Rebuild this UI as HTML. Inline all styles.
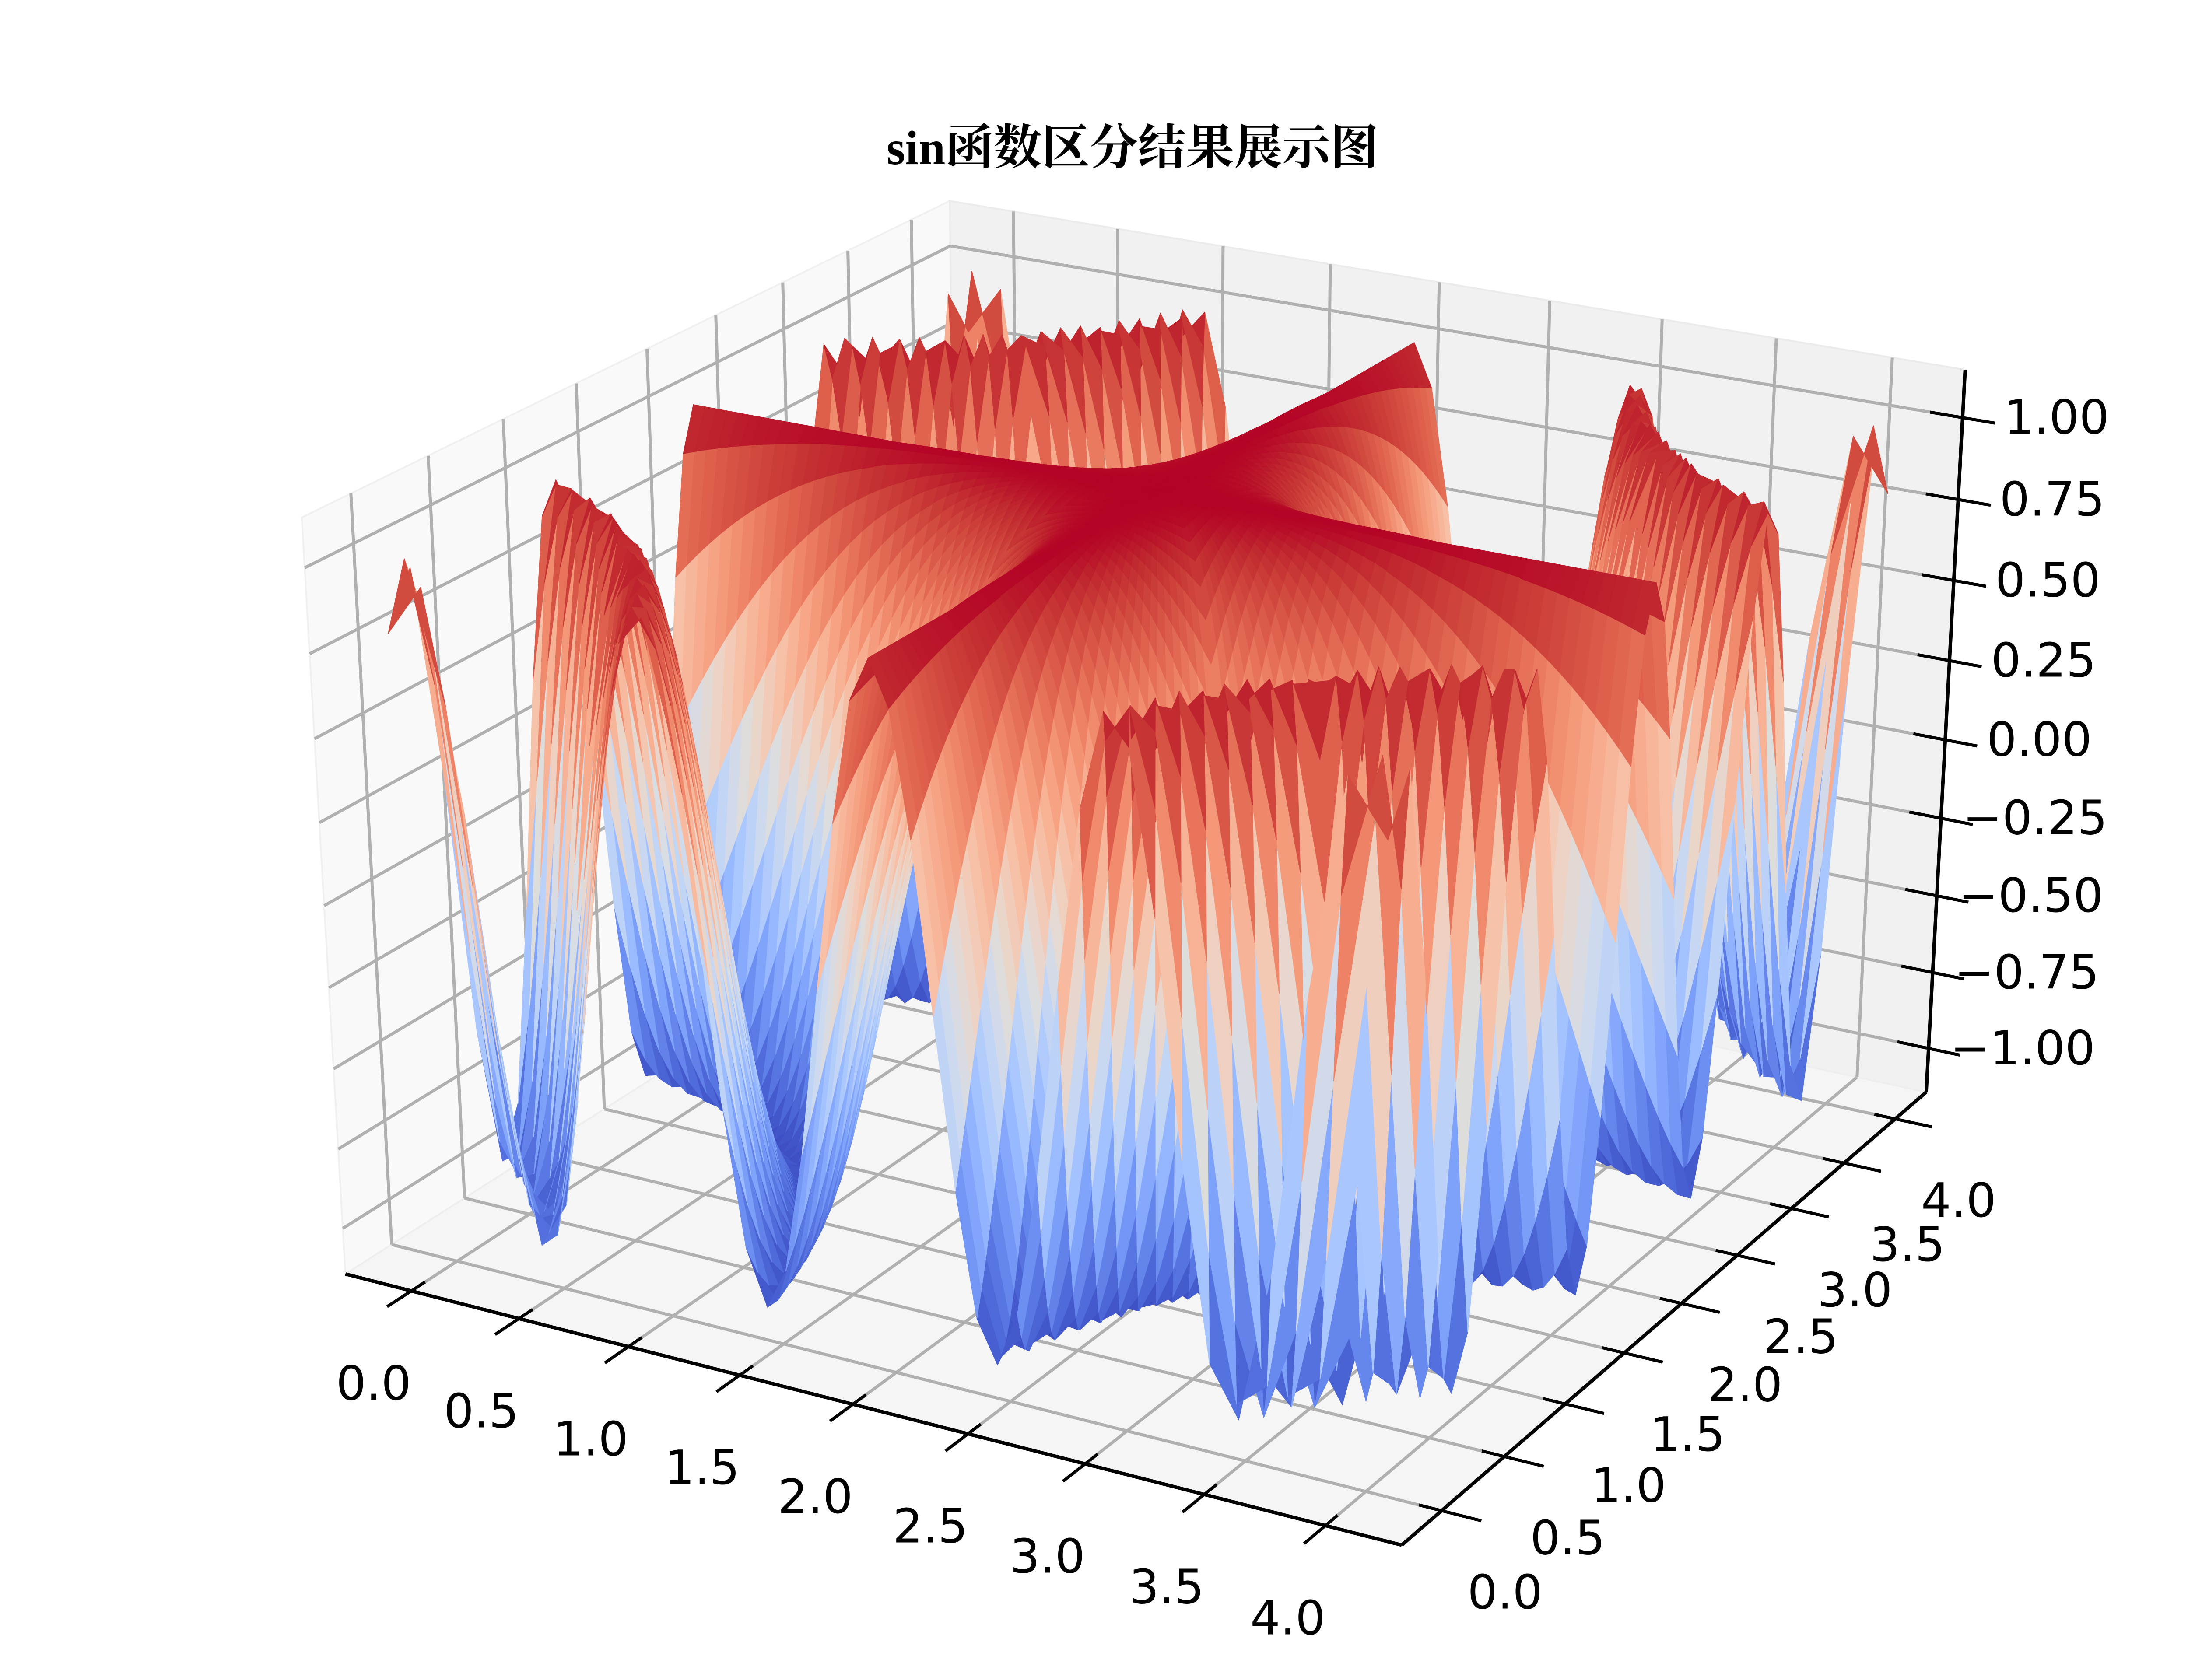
<!DOCTYPE html>
<html><head><meta charset="utf-8">
<style>
html,body{margin:0;padding:0;background:#fff;}
svg{display:block;}
.tick{font-family:"DejaVu Sans","Liberation Sans",sans-serif;font-size:108px;fill:#000;}
</style></head>
<body>
<svg id="chart" xmlns="http://www.w3.org/2000/svg" width="5120" height="3840" viewBox="0 0 5120 3840">
<rect width="5120" height="3840" fill="#ffffff"/>
<g id="panes"></g>
<g id="grid"></g>
<g id="surface"></g>
<g id="axes"></g>
<text x="2588" y="375" text-anchor="middle" font-family="'Liberation Serif','Noto Serif CJK SC',serif" font-weight="bold" font-size="110">sin函数区分结果展示图</text>
</svg>
<script>
// ---- data ----
const xTicks = [0.0,0.5,1.0,1.5,2.0,2.5,3.0,3.5,4.0];
const yTicks = [0.0,0.5,1.0,1.5,2.0,2.5,3.0,3.5,4.0];
const zTicks = [-1.0,-0.75,-0.5,-0.25,0.0,0.25,0.5,0.75,1.0];
const xTickLabels = ["0.0","0.5","1.0","1.5","2.0","2.5","3.0","3.5","4.0"];
const yTickLabels = ["0.0","0.5","1.0","1.5","2.0","2.5","3.0","3.5","4.0"];
const zTickLabels = ["\u22121.00","\u22120.75","\u22120.50","\u22120.25","0.00","0.25","0.50","0.75","1.00"];
const thetaGrid = Array.from({length:161},(_, j)=>j*2*Math.PI/160);
const sGrid = Array.from({length:41},(_, i)=>i/40);
const halfSize = 2.1;
const freqK = 3;
const meshX = sGrid.map(s=>thetaGrid.map(t=>{const c=Math.cos(t),n=Math.sin(t);const rho=halfSize/Math.max(Math.abs(c),Math.abs(n));return 2+s*rho*c;}));
const meshY = sGrid.map(s=>thetaGrid.map(t=>{const c=Math.cos(t),n=Math.sin(t);const rho=halfSize/Math.max(Math.abs(c),Math.abs(n));return 2+s*rho*n;}));
const zGrid = meshX.map((row,i)=>row.map((x,j)=>Math.cos(freqK*(x-2)*(meshY[i][j]-2))));

const xlim=[-0.31,4.31], ylim=[-0.31,4.31], zlim=[-1.145,1.145];
const NS="http://www.w3.org/2000/svg";

function norm(x,y,z){
  return [(x-(xlim[0]+xlim[1])/2)/(xlim[1]-xlim[0]),
          (y-(ylim[0]+ylim[1])/2)/(ylim[1]-ylim[0]),
          (z-(zlim[0]+zlim[1])/2)/(zlim[1]-zlim[0])*0.75];
}
function rawProj(p,el,az,D){
  const ce=Math.cos(el),se=Math.sin(el),ca=Math.cos(az),sa=Math.sin(az);
  const e=[ce*ca,ce*sa,se], r=[-sa,ca,0], u=[-se*ca,-se*sa,ce];
  const t=D-(p[0]*e[0]+p[1]*e[1]+p[2]*e[2]);
  return [(p[0]*r[0]+p[1]*r[1])/t*D,(p[0]*u[0]+p[1]*u[1]+p[2]*u[2])/t*D,t];
}
const corners=[[xlim[0],ylim[0],zlim[0],793,2925],[xlim[1],ylim[0],zlim[0],3189,3513],
 [xlim[1],ylim[1],zlim[0],4407,2524],[xlim[0],ylim[0],zlim[1],694,1157],
 [xlim[1],ylim[1],zlim[1],4497,812],[xlim[0],ylim[1],zlim[1],2165,496]];
function fit1(a,b){const n=a.length;let sa=0,sb=0,saa=0,sab=0;for(let i=0;i<n;i++){sa+=a[i];sb+=b[i];saa+=a[i]*a[i];sab+=a[i]*b[i];}
 const m=(n*sab-sa*sb)/(n*saa-sa*sa),c=(sb-m*sa)/n;let res=0;for(let i=0;i<n;i++){const d=m*a[i]+c-b[i];res+=d*d;}return [m,c,res];}
let best=null;
for(let el=24;el<=36;el+=0.5)for(let az=-66;az<=-54;az+=0.5)for(const D of [2,2.5,3,4,5,6,8,10,15,25,50]){
  const P=corners.map(c=>rawProj(norm(c[0],c[1],c[2]),el*Math.PI/180,az*Math.PI/180,D));
  const fx=fit1(P.map(p=>p[0]),corners.map(c=>c[3]));
  const fy=fit1(P.map(p=>p[1]),corners.map(c=>c[4]));
  const res=fx[2]+fy[2];
  if(!best||res<best.res)best={res,el:el*Math.PI/180,az:az*Math.PI/180,D,fx,fy};
}
function P3(x,y,z){const q=rawProj(norm(x,y,z),best.el,best.az,best.D);
  return [best.fx[0]*q[0]+best.fx[1],best.fy[0]*q[1]+best.fy[1],q[2]];}

function mk(tag,attrs,parent){const e=document.createElementNS(NS,tag);for(const k in attrs)e.setAttribute(k,attrs[k]);parent.appendChild(e);return e;}
function pts(a){return a.map(p=>p[0].toFixed(1)+","+p[1].toFixed(1)).join(" ");}

const panes=document.getElementById('panes');
const [X0,X1]=xlim,[Y0,Y1]=ylim,[Z0,Z1]=zlim;
let pe;
pe=mk('polygon',{points:pts([P3(X0,Y0,Z0),P3(X0,Y1,Z0),P3(X0,Y1,Z1),P3(X0,Y0,Z1)]),fill:'#f9f9f9',stroke:'#f0f0f0','stroke-width':4},panes);


pe=mk('polygon',{points:pts([P3(X0,Y1,Z0),P3(X1,Y1,Z0),P3(X1,Y1,Z1),P3(X0,Y1,Z1)]),fill:'#f1f1f1',stroke:'#ebebeb','stroke-width':4},panes);


pe=mk('polygon',{points:pts([P3(X0,Y0,Z0),P3(X1,Y0,Z0),P3(X1,Y1,Z0),P3(X0,Y1,Z0)]),fill:'#f5f5f5',stroke:'#eeeeee','stroke-width':4},panes);



const grid=document.getElementById('grid');
function gl(a,b,name){const l=mk('line',{x1:a[0],y1:a[1],x2:b[0],y2:b[1],stroke:'#b0b0b0','stroke-width':7},grid);
 
 }
xTicks.forEach(x=>{gl(P3(x,Y0,Z0),P3(x,Y1,Z0),'x-gridline');gl(P3(x,Y1,Z0),P3(x,Y1,Z1),'x-gridline');});
yTicks.forEach(y=>{gl(P3(X1,y,Z0),P3(X0,y,Z0),'y-gridline');gl(P3(X0,y,Z0),P3(X0,y,Z1),'y-gridline');});
zTicks.forEach(z=>{gl(P3(X0,Y0,z),P3(X0,Y1,z),'z-gridline');gl(P3(X0,Y1,z),P3(X1,Y1,z),'z-gridline');});

const CW=[[59,76,192],[68,90,204],[77,104,215],[87,117,225],[98,130,234],[108,142,241],[119,154,247],[130,165,251],[141,176,254],[152,185,255],[163,194,255],[174,201,253],[184,208,249],[194,213,244],[204,217,238],[213,219,230],[221,221,221],[229,216,209],[236,211,197],[241,204,185],[245,196,173],[247,187,160],[247,177,148],[247,166,135],[244,154,123],[241,141,111],[236,127,99],[229,112,88],[222,96,77],[213,80,66],[203,62,56],[192,40,47],[180,4,38]];
function cmap(t){t=Math.max(0,Math.min(1,t))*32;const i=Math.min(31,Math.floor(t)),f=t-i;const a=CW[i],b=CW[i+1];
 return 'rgb('+a.map((v,k)=>Math.round(v+(b[k]-v)*f)).join(',')+')';}

const surf=document.getElementById('surface');
let zmin=Infinity,zmax=-Infinity;zGrid.forEach(r=>r.forEach(v=>{zmin=Math.min(zmin,v);zmax=Math.max(zmax,v);}));
const faces=[];
for(let i=0;i<sGrid.length-1;i++)for(let j=0;j<thetaGrid.length-1;j++){
  const idx=[[i,j],[i+1,j],[i+1,j+1],[i,j+1]];
  const q=idx.map(([a,b])=>P3(meshX[a][b],meshY[a][b],zGrid[a][b]));
  const zm=idx.reduce((s,[a,b])=>s+zGrid[a][b],0)/4;
  const depth=(q[0][2]+q[1][2]+q[2][2]+q[3][2])/4;
  faces.push({q,zm,depth});
}
faces.sort((a,b)=>b.depth-a.depth);
faces.forEach(f=>{const c=cmap((f.zm-zmin)/(zmax-zmin));
  const p=mk('polygon',{points:pts(f.q),fill:c,stroke:c,'stroke-width':1.5,'stroke-linejoin':'round'},surf);
  
  
});

const axes=document.getElementById('axes');
function al(a,b,name,w){const l=mk('line',{x1:a[0],y1:a[1],x2:b[0],y2:b[1],stroke:'#000','stroke-width':w||8},axes);
 
 }
function tx(x,y,s,name){const t=mk('text',{x:x,y:y,'text-anchor':'middle','dominant-baseline':'central',class:'tick'},axes);t.textContent=s;
 
 }
al(P3(X0,Y0,Z0),P3(X1,Y0,Z0),'x-axis-line');
al(P3(X1,Y0,Z0),P3(X1,Y1,Z0),'y-axis-line');
al(P3(X1,Y1,Z0),P3(X1,Y1,Z1),'z-axis-line');
const yr=Y1-Y0,xr=X1-X0;
xTicks.forEach((x,k)=>{al(P3(x,Y0-0.035*yr,Z0),P3(x,Y0+0.02*yr,Z0),'x-tick',7);const p=P3(x,Y0,Z0);tx(p[0]-86,p[1]+212,xTickLabels[k],'x-tick-label');});
yTicks.forEach((y,k)=>{al(P3(X1+0.035*xr,y,Z0),P3(X1-0.02*xr,y,Z0),'y-tick',7);const p=P3(X1,y,Z0);tx(p[0]+145,p[1]+187,yTickLabels[k],'y-tick-label');});
zTicks.forEach((z,k)=>{al(P3(X1+0.03*xr,Y1,z),P3(X1-0.03*xr,Y1,z),'z-tick',7);const p=P3(X1,Y1,z);tx(p[0]+215,p[1],zTickLabels[k],'z-tick-label');});
</script>
</body></html>
